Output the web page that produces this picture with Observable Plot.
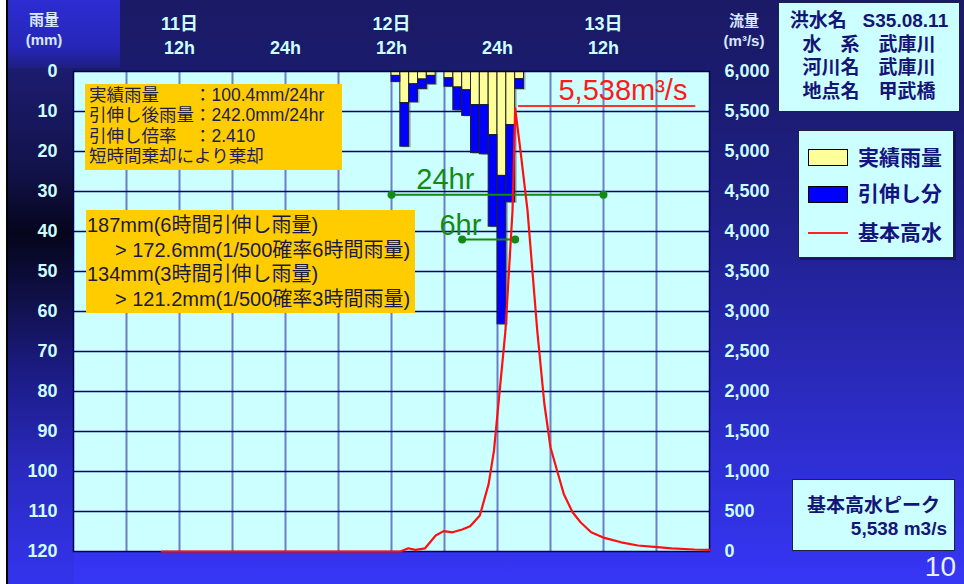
<!DOCTYPE html>
<html>
<head>
<meta charset="utf-8">
<script src="https://cdn.jsdelivr.net/npm/d3@7"></script>
<script src="https://cdn.jsdelivr.net/npm/@observablehq/plot@0.6"></script>
<style>
  body { margin: 0; background: #ffffff; }
  #slide {
    position: relative; width: 964px; height: 584px; overflow: hidden;
    font-family: "Liberation Sans", Arial, "Noto Sans CJK JP", sans-serif;
    background: linear-gradient(180deg, #1a1a66 0%, #1b1b6e 14%, #1f1f88 35%, #2727ae 58%, #2f2fd6 80%, #3636f6 100%);
  }
  .abs { position: absolute; }
  #plots svg { position: absolute; left: 0; top: 0; }
  .cyanbox { background: #ccffff; border: 1px solid #202040; box-sizing: border-box; }
  .navy { color: #151575; font-weight: bold; }
  .orange { background: #ffcc00; box-sizing: border-box; white-space: nowrap; }
</style>
</head>
<body>
<div id="slide">
  <div class="abs" style="left:0;top:0;width:6px;height:584px;background:#fff"></div>
  <div class="abs" style="left:6px;top:0;width:2px;height:584px;background:#000"></div>
  <div class="abs" style="left:8px;top:0;width:112px;height:68px;background:linear-gradient(180deg,#2d2dd2 0%,#2626b8 70%,#1e1e80 100%)"></div>
  <div class="abs" style="left:8px;top:68px;width:66px;height:516px;background:linear-gradient(180deg,#1c1c70 0%,#12124a 20%,#05051c 32%,#10104a 45%,#1c1c88 60%,#2a2ac0 78%,#3434ee 100%)"></div>

  <div id="plots"></div>

  <div class="abs" style="left:14px;top:10px;width:60px;text-align:center;line-height:20px;font-size:15px;font-weight:bold;color:#d8e8ff">雨量<br>(mm)</div>
  <div class="abs" style="left:714px;top:11px;width:60px;text-align:center;line-height:20px;font-size:15px;font-weight:bold;color:#d8e8ff">流量<br>(m³/s)</div>

  <div class="abs cyanbox navy" style="left:778px;top:2px;width:182px;height:110px;padding-top:6px;text-align:center;font-size:19px;line-height:23.7px;white-space:nowrap">
    洪水名&nbsp;&nbsp;&nbsp;S35.08.11<br>水　系　武庫川<br>河川名　武庫川<br>地点名　甲武橋
  </div>

  <div class="abs cyanbox" style="left:798px;top:130px;width:156px;height:128px;box-shadow:2px 2px 0 rgba(0,0,0,0.35)">
    <div class="abs" style="left:9px;top:18px;width:40px;height:17px;background:#ffff99;border:1px solid #000;box-sizing:border-box"></div>
    <div class="abs navy" style="left:59px;top:15px;font-size:21px;line-height:24px;color:#141480">実績雨量</div>
    <div class="abs" style="left:9px;top:55px;width:40px;height:17px;background:#0000ff;border:1px solid #000;box-sizing:border-box"></div>
    <div class="abs navy" style="left:59px;top:51px;font-size:21px;line-height:24px;color:#141480">引伸し分</div>
    <div class="abs" style="left:9px;top:101px;width:40px;height:2px;background:#ff2020"></div>
    <div class="abs navy" style="left:59px;top:90px;font-size:21px;line-height:24px;color:#141480">基本高水</div>
  </div>

  <div class="abs orange" style="left:85px;top:84px;width:257px;height:86px;padding:1px 0 0 4px;font-size:17.5px;line-height:20.3px;color:#1e1e50">
    実績雨量　　：100.4mm/24hr<br>引伸し後雨量：242.0mm/24hr<br>引伸し倍率　：2.410<br>短時間棄却により棄却
  </div>

  <div class="abs orange" style="left:86px;top:210px;width:329px;height:103px;padding:3px 0 0 1px;font-size:20px;line-height:24.5px;color:#1a1a40">
    187mm(6時間引伸し雨量)<br><span style="margin-left:28px">&gt; 172.6mm(1/500確率6時間雨量)</span><br>134mm(3時間引伸し雨量)<br><span style="margin-left:28px">&gt; 121.2mm(1/500確率3時間雨量)</span>
  </div>

  <div class="abs cyanbox navy" style="left:792px;top:479px;width:163px;height:72px;font-size:19px">
    <div class="abs" style="left:0;top:14px;width:161px;text-align:center;line-height:24px">基本高水ピーク</div>
    <div class="abs" style="right:7px;top:37px;line-height:24px">5,538 m3/s</div>
  </div>

  <div class="abs" style="right:8px;top:553px;font-size:28px;line-height:28px;color:#e8f0ff">10</div>
</div>

<script>
// ---- data ----
// hourly rainfall (hour index from 11日 0h)
const rainHours = [36, 37, 38, 39, 40, 42, 43, 44, 45, 46, 47, 48, 49, 50];
const actualRain = [1.1, 7.9, 3.2, 2.0, 1.1, 1.7, 4.0, 4.7, 8.4, 8.4, 15.9, 26.1, 13.4, 1.9];     // 実績雨量 (mm)
const stretchedRain = [2.6, 18.8, 7.7, 4.4, 3.2, 3.8, 9.7, 11.1, 20.4, 20.7, 38.8, 63.2, 32.7, 4.4]; // 引伸し後 (mm)

// 基本高水 hydrograph
const flowHours = [10, 37, 37.9, 38.7, 39.8, 41.0, 41.9, 42.9, 44.0, 44.9, 46.0, 47.0, 47.6, 48.9, 49.7, 50.0, 50.6, 51.4, 52.5, 53.3, 54.0, 54.8, 55.5, 56.5, 57.4, 58.6, 60.1, 62.0, 63.9, 66.1, 67.7, 70.3, 72];
const flowValues = [0, 0, 40, 20, 40, 200, 255, 240, 275, 315, 450, 845, 1260, 2760, 4260, 5538, 5010, 4260, 2760, 1850, 1300, 990, 720, 490, 365, 240, 170, 115, 75, 55, 40, 25, 20];

// axes
const rainTicks = [0, 10, 20, 30, 40, 50, 60, 70, 80, 90, 100, 110, 120];
const rainGridLines = [10, 20, 30, 40, 50, 60, 70, 80, 90, 100, 110];
const flowTicks = [0, 500, 1000, 1500, 2000, 2500, 3000, 3500, 4000, 4500, 5000, 5500, 6000];
const timeGridLines = [6, 12, 18, 24, 30, 36, 42, 48, 54, 60, 66];
const timeTicks = [12, 24, 36, 48, 60];
const timeLabels = ["11日\n12h", "24h", "12日\n12h", "24h", "13日\n12h"];

// annotations
const spanLabels = ["24hr", "6hr"];
const spanStart = [36, 44];
const spanEnd = [60, 50];
const spanLevel = [30.8, 42];      // mm
const spanLabelX = [42.1, 43.8];
const spanLabelY = [29.3, 40.8];
const peakLabel = ["5,538m³/s"];
const peakLabelX = [54.9];
const peakLabelY = [5640];
const peakLeaderX = [50.4, 70.3];
const peakLeaderY = [5568, 5568];

// ---- build ----
const W = 964, H = 584;
const M = {marginLeft: 73, marginRight: 255, marginTop: 71, marginBottom: 33};
const fontFamily = '"Liberation Sans", Arial, "Noto Sans CJK JP", sans-serif';

const rainRows = rainHours.map((h, i) => ({h, h2: h + 1, actual: actualRain[i], total: stretchedRain[i]}));
const flowRows = flowHours.map((h, i) => ({h, q: flowValues[i]}));
const spans = spanLabels.map((label, i) => ({label, start: spanStart[i], end: spanEnd[i], level: spanLevel[i], lx: spanLabelX[i], ly: spanLabelY[i]}));
const spanDots = spans.flatMap(s => [{x: s.start, y: s.level}, {x: s.end, y: s.level}]);
const timeLabelMap = new Map(timeTicks.map((t, i) => [t, timeLabels[i]]));
const green = "#138a13";

const rainPlot = Plot.plot({
  width: W, height: H, ...M,
  style: {background: "transparent", fontFamily, overflow: "visible"},
  x: {domain: [0, 72]},
  y: {domain: [0, 120], reverse: true},
  marks: [
    Plot.frame({fill: "#ccffff"}),
    Plot.gridX({ticks: timeGridLines, stroke: "#6a7fc6", strokeWidth: 2, strokeOpacity: 1}),
    Plot.gridY({ticks: rainGridLines, stroke: "#000080", strokeWidth: 1.5, strokeOpacity: 1}),
    Plot.rect(rainRows, {x1: "h", x2: "h2", y1: 0, y2: "total", fill: "#556", fillOpacity: 0.45, dx: 2, dy: 1}),
    Plot.rect(rainRows, {x1: "h", x2: "h2", y1: 0, y2: "actual", fill: "#ffff99", stroke: "#222", strokeWidth: 1}),
    Plot.rect(rainRows, {x1: "h", x2: "h2", y1: "actual", y2: "total", fill: "#0000ff", stroke: "#222", strokeWidth: 1}),
    Plot.ruleY(spans, {x1: "start", x2: "end", y: "level", stroke: green, strokeWidth: 2}),
    Plot.dot(spanDots, {x: "x", y: "y", r: 4, fill: green}),
    Plot.text(spans, {x: "lx", y: "ly", text: "label", fill: green, fontSize: 29, lineAnchor: "bottom", textAnchor: "middle"}),
    Plot.frame({stroke: "#000050", strokeWidth: 1.5}),
    Plot.axisY({anchor: "left", ticks: rainTicks, tickSize: 0, tickPadding: 16, label: null,
      color: "#ccffff", fontSize: 18, fontWeight: "bold"}),
    Plot.axisX({anchor: "top", ticks: timeTicks, tickFormat: d => timeLabelMap.get(d), tickSize: 0, tickPadding: 18,
      label: null, color: "#ccffff", fontSize: 18, fontWeight: "bold", lineHeight: 1.28})
  ]
});

const flowPlot = Plot.plot({
  width: W, height: H, ...M,
  style: {background: "transparent", fontFamily, overflow: "visible"},
  x: {domain: [0, 72], axis: null},
  y: {domain: [0, 6000]},
  marks: [
    Plot.line(flowRows, {x: "h", y: "q", stroke: "#ff1010", strokeWidth: 2.2}),
    Plot.line(peakLeaderX.map((x, i) => ({x, y: peakLeaderY[i]})), {x: "x", y: "y", stroke: "#ff3030", strokeWidth: 2}),
    Plot.text(peakLabel, {x: peakLabelX, y: peakLabelY, text: d => d, fill: "#ff1a1a", fontSize: 29, textAnchor: "start", lineAnchor: "bottom"}),
    Plot.axisY({anchor: "right", ticks: flowTicks, tickFormat: d3.format(","), tickSize: 0, tickPadding: 15, label: null,
      color: "#ccffff", fontSize: 18, fontWeight: "bold"})
  ]
});

const holder = document.getElementById("plots");
holder.append(rainPlot, flowPlot);
</script>
</body>
</html>
